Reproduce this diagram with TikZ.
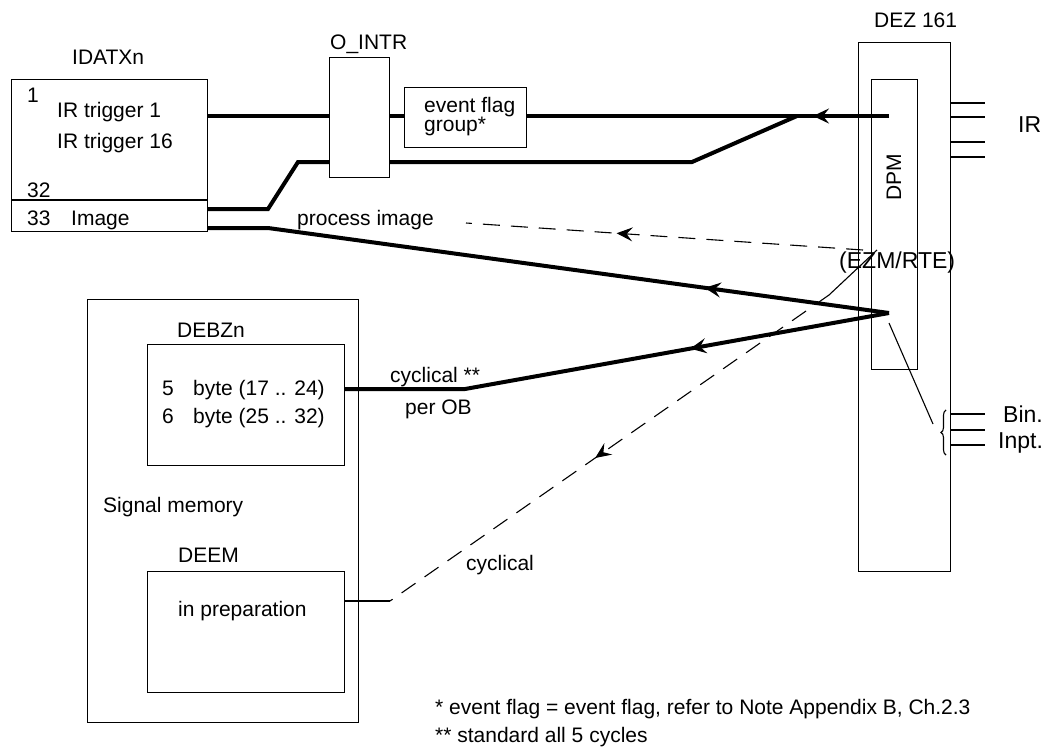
\documentclass[tikz,border=0pt]{standalone}
\usepackage{fontspec}
\setmainfont{Liberation Sans}
\usetikzlibrary{arrows.meta,decorations.markings,decorations.pathreplacing,calc}
\begin{document}
\begin{tikzpicture}[x=1pt,y=-1pt,
  box/.style={draw, line width=1.2pt, inner sep=0, anchor=north west},
  lbl/.style={inner sep=0, anchor=base west, font=\fontsize{21}{24}\selectfont},
  biglbl/.style={inner sep=0, anchor=base west, font=\fontsize{23}{26}\selectfont},
  bus/.style={line width=4pt},
  thinl/.style={line width=1.1pt},
  dsh/.style={line width=1.1pt, dash pattern=on 17pt off 11pt},
  arrowat/.style={postaction={decorate, decoration={markings,
     mark=at position #1 with {\arrow{Stealth[length=16pt,width=15pt,inset=6pt]}}}}},
  thinarrowat/.style={postaction={decorate, decoration={markings,
     mark=at position #1 with {\arrow{Stealth[length=16pt,width=14pt,inset=6pt]}}}}},
]
\useasboundingbox (0,0) rectangle (1055,747);

% boxes
\node[box, minimum width=196pt, minimum height=152pt] (idatx) at (11,79) {};
\node[box, minimum width=60pt, minimum height=120pt] (ointr) at (329,57) {};
\node[box, minimum width=122pt, minimum height=60pt] (efg) at (404,87) {};
\node[box, minimum width=92pt, minimum height=529pt] (dez) at (858,42) {};
\node[box, minimum width=46pt, minimum height=290pt] (dpm) at (871,79) {};
\node[box, minimum width=271pt, minimum height=423pt] (sigmem) at (87,299) {};
\node[box, minimum width=197pt, minimum height=121pt] (debz) at (147,344) {};
\node[box, minimum width=197pt, minimum height=121pt] (deem) at (147,571) {};

% texts
\node[lbl] (tidatx) at (72,64) {IDATXn};
\node[lbl] (t1) at (27,102) {1};
\node[lbl] (tir1) at (57,117) {IR trigger 1};
\node[lbl] (tir16) at (57,148) {IR trigger 16};
\node[lbl] (t32) at (27,197) {32};
\node[lbl] (t33) at (27,225) {33};
\node[lbl] (timage) at (71,225) {Image};
\node[lbl] (tointr) at (330,49) {O\_INTR};
\node[lbl] (tef1) at (424,112) {event flag};
\node[lbl] (tef2) at (424,131) {group*};
\node[lbl] (tproc) at (297,225) {process image};
\node[lbl] (tdez) at (874,27) {DEZ 161};
\node[biglbl] (tir) at (1018,132) {IR};
\node[lbl, anchor=center, rotate=90] (tdpm) at (894,177) {DPM};
\node[biglbl] (tezm) at (839,268) {(EZM/RTE)};
\node[lbl] (tdebz) at (177,337) {DEBZn};
\node[lbl] (t5) at (162,395) {5};
\node[lbl] (tb5) at (193,395) {byte (17 .. 24)};
\node[lbl] (t6) at (162,423) {6};
\node[lbl] (tb6) at (193,423) {byte (25 .. 32)};
\node[lbl] (tsig) at (103,512) {Signal memory};
\node[lbl] (tdeem) at (178,562) {DEEM};
\node[lbl] (tprep) at (178,616) {in preparation};
\node[lbl] (tcyc1) at (390,382) {cyclical **};
\node[lbl] (tperob) at (405,414) {per OB};
\node[lbl] (tcyc2) at (466,570) {cyclical};
\node[biglbl] (tbin) at (1003,422) {Bin.};
\node[biglbl] (tinpt) at (998,448) {Inpt.};
\node[lbl] (tfn1) at (435,714) {* event flag = event flag, refer to Note Appendix B, Ch.2.3};
\node[lbl] (tfn2) at (435,742) {** standard all 5 cycles};

% helper coordinates
\coordinate (r1) at (0,116);
\coordinate (r2) at (0,162);
\coordinate (r3) at (0,209);
\coordinate (r4) at (0,228);
\coordinate (r5) at (0,389);
\coordinate (r6) at (0,601);
\coordinate (rd) at (0,200);
\coordinate (pA) at (889,116);
\coordinate (pB) at (889,313);
\coordinate (j1) at (797,116);
\coordinate (k1) at (692,162);
\coordinate (b1) at (268,209);
\coordinate (b2) at (298,162);
\coordinate (b3) at (268,228);
\coordinate (c1) at (465,389);
\coordinate (e1) at (863,250);
\coordinate (e2) at (466,223);
\coordinate (f1) at (877,250);
\coordinate (f2) at (829,295);
\coordinate (f3) at (390,601);
\coordinate (g1) at (889,323);
\coordinate (g2) at (933,424);

% divider in IDATXn
\draw[line width=1.2pt] (idatx.west |- rd) -- (idatx.east |- rd);

% thick buses
\draw[bus] (idatx.east |- r1) -- (ointr.west |- r1);
\draw[bus] (ointr.east |- r1) -- (efg.west |- r1);
\draw[bus, arrowat=76pt] (pA) -- (efg.east |- r1);
\draw[bus, line join=miter] (ointr.east |- r2) -- (k1) -- (j1);
\draw[bus, line join=miter] (idatx.east |- r3) -- (b1) -- (b2) -- (ointr.west |- r2);
\draw[bus, line join=miter, arrowat=186pt] (pB) -- (b3) -- (idatx.east |- r4);
\draw[bus, line join=miter, arrowat=202pt] (pB) -- (c1) -- (debz.east |- r5);

% dashed signals
\draw[dsh, thinarrowat=247pt] (e1) -- (e2);
\draw[thinl] (f1) -- (f2);
\draw[dsh, thinarrowat=285pt] (f2) -- (f3);
\draw[thinl] (f3) -- (deem.east |- r6);

% DPM to binary inputs
\draw[thinl] (g1) -- (g2);
\draw[thinl, decorate, decoration={brace, amplitude=5pt}] (946,455) -- (946,410);

% IR lines
\foreach \yy/\nm in {103/ira,117/irb,142/irc,157/ird} {
  \coordinate (\nm) at (985,\yy);
  \draw[thinl] (dez.east |- \nm) -- (\nm);
}
% binary input lines
\foreach \yy/\nm in {414/bia,430/bib,445/bic} {
  \coordinate (\nm) at (985,\yy);
  \draw[thinl] (dez.east |- \nm) -- (\nm);
}
\end{tikzpicture}
\end{document}
